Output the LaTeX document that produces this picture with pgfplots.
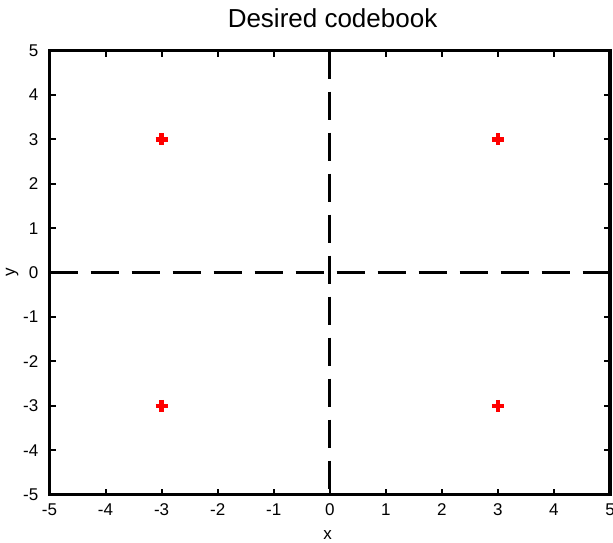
\documentclass[border=0pt]{standalone}
\usepackage{pgfplots}
\pgfplotsset{compat=1.18}
\usepackage{fontspec}
\setmainfont{Liberation Sans}

\begin{document}
\begin{tikzpicture}[x=1pt,y=1pt]
\useasboundingbox (0,0) rectangle (613,542);
\begin{axis}[
  at={(49.5pt,47.3pt)}, anchor=south west,
  scale only axis,
  width=560.5pt, height=444.2pt,
  xmin=-5, xmax=5, ymin=-5, ymax=5,
  xtick={-5,...,5}, ytick={-5,...,5},
  axis line style={line width=3.2pt},
  tick style={line width=2pt, black},
  major tick length=6pt,
  tick align=inside,
  /pgf/number format/assume math mode=true,
  ticklabel style={font=\fontsize{17}{17}\selectfont, inner sep=0pt},
  xticklabel style={anchor=north, yshift=-8.5pt},
  yticklabel style={anchor=east, xshift=-11pt},
  title={Desired codebook},
  title style={font=\fontsize{26}{26}\selectfont, at={(axis description cs:0.505,1)}, anchor=base, yshift=17.5pt},
  xlabel={x},
  xlabel style={font=\fontsize{17}{17}\selectfont, at={(axis description cs:0.496,0)}, anchor=base, yshift=-45pt},
  ylabel={y},
  ylabel style={font=\fontsize{17}{17}\selectfont, at={(axis description cs:-0.062,0.5)}, anchor=base},
  clip=false,
]
% quadrant dividers
\addplot[black, line width=3pt, dash pattern=on 28pt off 13pt] coordinates {(-5,0) (5,0)};
\addplot[black, line width=3pt, dash pattern=on 28pt off 13pt] coordinates {(0,5) (0,-5)};
% codebook vectors
\addplot[only marks, red, mark=+, mark size=6pt, mark options={line width=4.5pt}] coordinates {(-3,3) (3,3) (-3,-3) (3,-3)};
\addplot[only marks, red, mark=square*, mark size=2.6pt, mark options={rotate=45}] coordinates {(-3,3) (3,3) (-3,-3) (3,-3)};
\end{axis}
\end{tikzpicture}
\end{document}
